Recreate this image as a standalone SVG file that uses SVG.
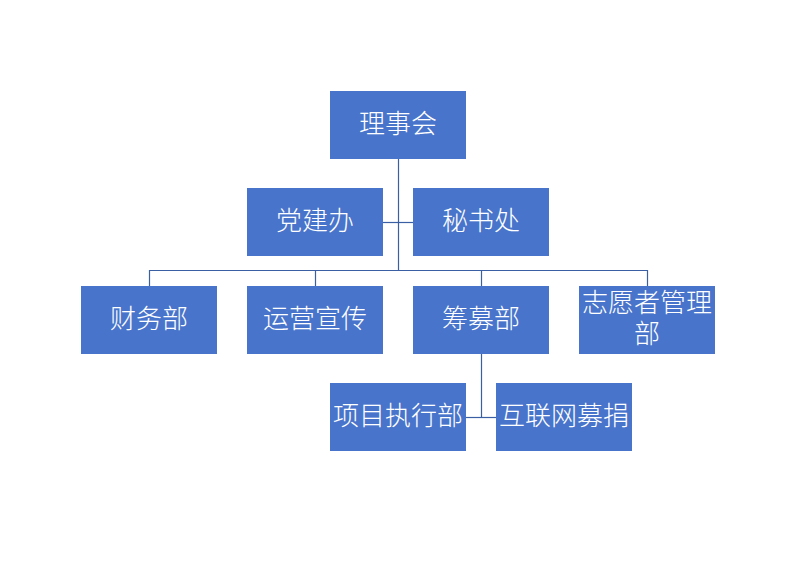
<svg xmlns="http://www.w3.org/2000/svg" width="790" height="567" viewBox="0 0 790 567">
<style>
.box{fill:#4874CB;}
.t{fill:#ffffff;font-family:"Noto Sans CJK SC","Noto Sans",sans-serif;font-size:26px;font-weight:300;text-anchor:middle;dominant-baseline:central;}
.c{stroke:#3A5FA3;stroke-width:1.2;fill:none;}
</style>
<rect width="790" height="567" fill="#ffffff"/>
<g id="connectors">
<path class="c" d="M398.5 159V270.5"/>
<path class="c" d="M383 222.5H413"/>
<path class="c" d="M149.5 286V270.5H647.5V286"/>
<path class="c" d="M315.5 270.5V286"/>
<path class="c" d="M481.5 270.5V286"/>
<path class="c" d="M481.5 354V417.5"/>
<path class="c" d="M466 417.5H496"/>
</g>
<g id="n-lishihui"><rect class="box" x="330" y="91" width="136" height="68"/><text class="t" x="398" y="121.5">理事会</text></g>
<g id="n-dangjianban"><rect class="box" x="247" y="188" width="136" height="68"/><text class="t" x="315" y="218.5">党建办</text></g>
<g id="n-mishuchu"><rect class="box" x="413" y="188" width="136" height="68"/><text class="t" x="481" y="218.5">秘书处</text></g>
<g id="n-caiwubu"><rect class="box" x="81" y="286" width="136" height="68"/><text class="t" x="149" y="316.5">财务部</text></g>
<g id="n-yunying"><rect class="box" x="247" y="286" width="136" height="68"/><text class="t" x="315" y="316.5">运营宣传</text></g>
<g id="n-choumubu"><rect class="box" x="413" y="286" width="136" height="68"/><text class="t" x="481" y="316.5">筹募部</text></g>
<g id="n-zhiyuanzhe"><rect class="box" x="579" y="286" width="136" height="68"/><text class="t" x="647" y="300.5">志愿者管理</text><text class="t" x="647" y="331.5">部</text></g>
<g id="n-xiangmu"><rect class="box" x="330" y="383" width="136" height="68"/><text class="t" x="398" y="413.5">项目执行部</text></g>
<g id="n-hulianwang"><rect class="box" x="496" y="383" width="136" height="68"/><text class="t" x="564" y="413.5">互联网募捐</text></g>
</svg>
